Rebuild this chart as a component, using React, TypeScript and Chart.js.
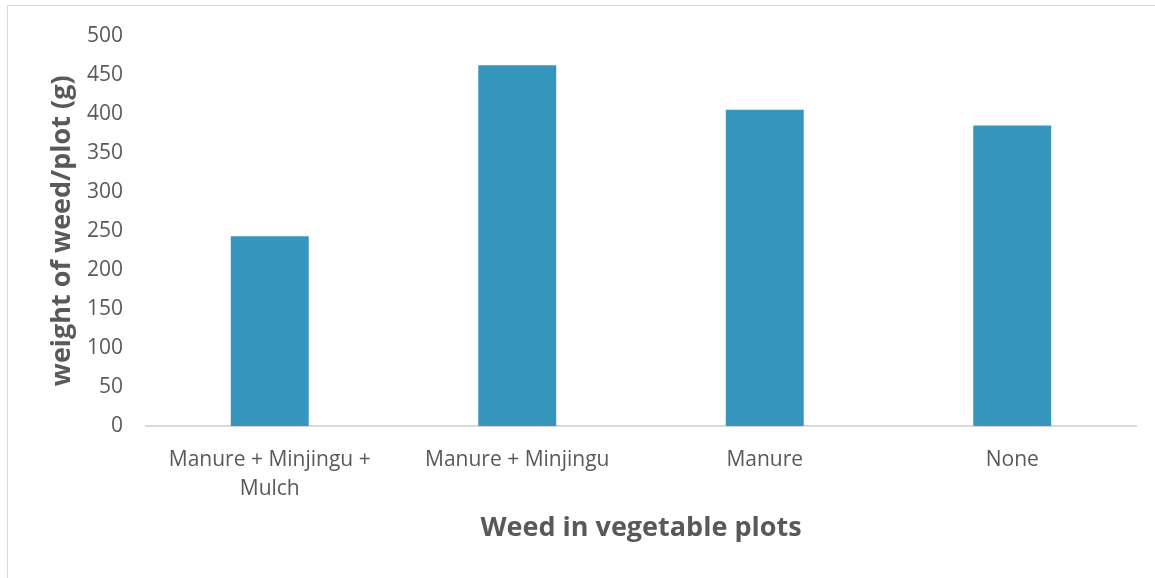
import React, { useEffect, useRef } from "react";
import { Chart, registerables } from "chart.js";

Chart.register(...registerables);

const categories: (string | string[])[] = [
  ["Manure + Minjingu +", "Mulch"],
  "Manure + Minjingu",
  "Manure",
  "None",
];
const weedWeight: number[] = [243, 462, 405, 385];
const yTitle = "weight of weed/plot (g)";
const xTitle = "Weed in vegetable plots";

const FONT = "'Open Sans', 'Noto Sans', sans-serif";
const TEXT = "#595959";

export default function App() {
  const ref = useRef<HTMLCanvasElement | null>(null);
  useEffect(() => {
    if (!ref.current) return;
    const chart = new Chart(ref.current, {
      type: "bar",
      data: {
        labels: categories,
        datasets: [
          {
            data: weedWeight,
            backgroundColor: "#3595bc",
            categoryPercentage: 1,
            barPercentage: 0.315,
          },
        ],
      },
      options: {
        animation: false,
        responsive: false,
        maintainAspectRatio: false,
        layout: { padding: { left: 46, right: 19, top: 33, bottom: 33 } },
        plugins: { legend: { display: false }, tooltip: { enabled: false } },
        scales: {
          x: {
            grid: { display: false, drawTicks: false },
            border: { display: true, color: "#d9d9d9", width: 2 },
            ticks: {
              color: TEXT,
              font: { family: FONT, size: 21, lineHeight: 1.4 },
              padding: 19,
              maxRotation: 0,
              autoSkip: false,
            },
            title: {
              display: true,
              text: xTitle,
              color: TEXT,
              font: { family: FONT, size: 27, weight: "bold" },
              padding: 0,
            },
            afterFit: (s: any) => {
              s.height = 119;
            },
          },
          y: {
            min: 0,
            max: 500,
            grid: { display: false, drawTicks: false },
            border: { display: false },
            ticks: {
              stepSize: 50,
              color: TEXT,
              font: { family: FONT, size: 21 },
              padding: 23,
            },
            title: {
              display: true,
              text: yTitle,
              color: TEXT,
              font: { family: FONT, size: 27, weight: "bold" },
              padding: 0,
            },
            afterFit: (s: any) => {
              s.width = 100;
            },
          },
        },
      },
    });
    return () => chart.destroy();
  }, []);
  return (
    <div
      style={{
        position: "fixed",
        left: 0,
        top: 0,
        width: 1155,
        height: 578,
        background: "#fff",
      }}
    >
      <div
        style={{
          position: "absolute",
          left: 7,
          top: 5,
          width: 1160,
          height: 600,
          borderLeft: "1px solid #d9d9d9",
          borderTop: "1px solid #d9d9d9",
        }}
      />
      <canvas
        ref={ref}
        width={1155}
        height={578}
        style={{ position: "absolute", left: 0, top: 0 }}
      />
    </div>
  );
}
